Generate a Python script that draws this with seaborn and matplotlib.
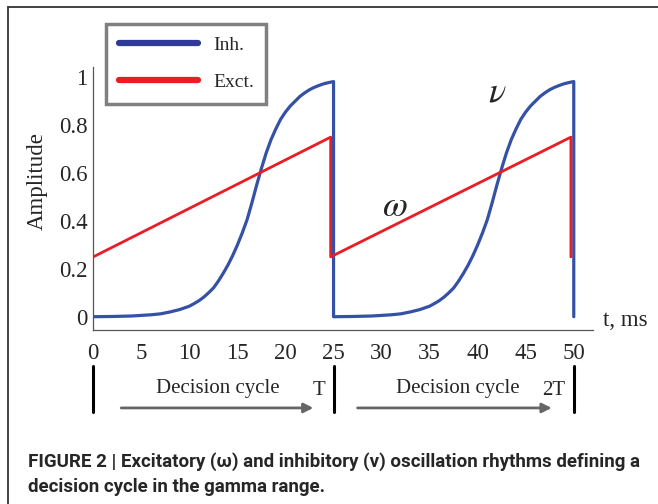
import numpy as np
import pandas as pd
import matplotlib
matplotlib.use("Agg")
import matplotlib.pyplot as plt
from matplotlib.lines import Line2D
import seaborn as sns

# one decision cycle of the inhibitory rhythm
cycle_t = [0, 2, 4, 6, 7, 8, 9, 10, 10.5, 11, 11.5, 12, 12.5, 13, 13.5, 14, 14.5, 15, 15.5,
           16, 16.5, 17, 17.5, 18, 18.5, 19, 19.5, 20, 20.5, 21, 21.5, 22, 22.5, 23, 23.5,
           24, 24.5, 25]
cycle_inh = [0.0, 0.001, 0.003, 0.008, 0.012, 0.02, 0.03, 0.044, 0.055, 0.067, 0.082, 0.1,
             0.12, 0.148, 0.18, 0.215, 0.255, 0.3, 0.35, 0.405, 0.475, 0.55, 0.62, 0.685,
             0.74, 0.785, 0.825, 0.855, 0.88, 0.9, 0.92, 0.935, 0.948, 0.958, 0.966, 0.973,
             0.978, 0.982]
period = 25
n_cycles = 2

exc_t = [0, 24.7, 24.7, 49.7, 49.7]
exc_amp = [0.25, 0.75, 0.25, 0.75, 0.25]

x_ticks = [0, 5, 10, 15, 20, 25, 30, 35, 40, 45, 50]
y_ticks = [0, 0.2, 0.4, 0.6, 0.8, 1.0]
y_labels = ["0", "0.2", "0.4", "0.6", "0.8", "1"]
cycle_bounds = [0, 25, 50]
cycle_marks = ["T", "2T"]

blue = "#3451a6"
red = "#ec1c24"

sns.set_style("white")
plt.rcParams["font.family"] = ["Liberation Serif", "DejaVu Serif"]
plt.rcParams["mathtext.fontset"] = "stix"

rows = []
for k in range(n_cycles):
    for t, a in zip(cycle_t, cycle_inh):
        rows.append((t + k * period, a))
    rows.append(((k + 1) * period, 0.0))  # reset at the end of the cycle
inh = pd.DataFrame(rows, columns=["t", "amp"])
exc = pd.DataFrame({"t": exc_t, "amp": exc_amp})

fig = plt.figure(figsize=(6.58, 5.04), dpi=100)
ax = fig.add_axes([0.1418, 0.345, 0.7594, 0.5226])

sns.lineplot(data=inh, x="t", y="amp", sort=False, estimator=None, color=blue, lw=2.3, ax=ax)
sns.lineplot(data=exc, x="t", y="amp", sort=False, estimator=None, color=red, lw=2.0, ax=ax)

ax.set_xlim(0, 52)
ax.set_ylim(-0.056, 1.044)
ax.set_xticks(x_ticks)
ax.set_yticks(y_ticks)
ax.set_yticklabels(y_labels)
ax.tick_params(direction="in", length=4, width=0.8, color="#555555", labelsize=16.5)
ax.tick_params(axis="x", pad=9)
ax.tick_params(axis="y", pad=4)
for s in ["top", "right"]:
    ax.spines[s].set_visible(False)
for s in ["left", "bottom"]:
    ax.spines[s].set_color("#555555")
    ax.spines[s].set_linewidth(0.9)
ax.set_xlabel("")
ax.set_ylabel("")
ax.text(-0.113, 0.566, "Amplitude", transform=ax.transAxes, rotation=90,
        ha="center", va="center", fontsize=16.5)
ax.text(53.0, -0.014, "t, ms", ha="left", va="center", fontsize=16.5, clip_on=False)

ax.text(42.0, 0.934, r"$\nu$", ha="center", va="center", fontsize=26)
ax.text(31.4, 0.458, r"$\omega$", ha="center", va="center", fontsize=26)

# decision cycle annotation under the axis
for b in cycle_bounds:
    ax.plot([b, b], [-0.206, -0.398], color="black", lw=2.2, clip_on=False)
for x0, x1 in [(2.9, 22.9), (27.5, 47.7)]:
    ax.annotate("", xy=(x1, -0.381), xytext=(x0, -0.381), annotation_clip=False,
                arrowprops=dict(arrowstyle="-|>", color="#666666", lw=2, mutation_scale=14,
                                shrinkA=0, shrinkB=0))
ax.text(13.0, -0.298, "Decision cycle", ha="center", va="center", fontsize=15)
ax.text(37.9, -0.298, "Decision cycle", ha="center", va="center", fontsize=15)
ax.text(23.5, -0.31, cycle_marks[0], ha="center", va="center", fontsize=15)
ax.text(47.9, -0.31, cycle_marks[1], ha="center", va="center", fontsize=15)

handles = [Line2D([], [], color="#2e3a96", lw=4.5), Line2D([], [], color=red, lw=4.5)]
leg = ax.legend(handles, ["Inh.", "Exct."], loc="upper left",
                bbox_to_anchor=(106 / 658, 1 - 24 / 504), bbox_transform=fig.transFigure,
                borderaxespad=0, fontsize=14, handlelength=4.1, handletextpad=0.75,
                borderpad=0.65, labelspacing=1.0, fancybox=False, framealpha=1)
leg.get_frame().set_edgecolor("#808080")
leg.get_frame().set_linewidth(2.5)

# page frame and caption
fig.add_artist(Line2D([8 / 658, 8 / 658], [0, 1 - 7 / 504], color="#333333", lw=1.3))
fig.add_artist(Line2D([8 / 658, 1], [1 - 7 / 504, 1 - 7 / 504], color="#333333", lw=1.3))
cap_font = ["Roboto", "Liberation Sans", "DejaVu Sans"]
cap1 = fig.text(28 / 658, 1 - 462 / 504,
                "FIGURE 2 | Excitatory (\u03c9) and inhibitory (\u03bd) oscillation rhythms defining a",
                ha="left", va="center", fontsize=11, fontweight="bold", family=cap_font)
cap2 = fig.text(28 / 658, 1 - 487 / 504, "decision cycle in the gamma range.",
                ha="left", va="center", fontsize=11, fontweight="bold", family=cap_font)

# shrink the caption so the first line ends where the reference one does
renderer = fig.canvas.get_renderer()
w = cap1.get_window_extent(renderer).width
size = 11 * (641 - 28) / w
cap1.set_fontsize(size)
cap2.set_fontsize(size)

fig.savefig("out.png", dpi=100)
